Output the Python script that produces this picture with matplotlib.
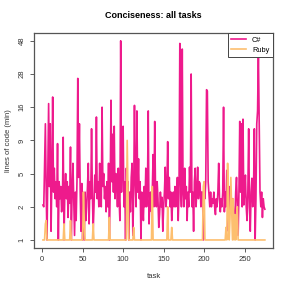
import numpy as np
import matplotlib
matplotlib.use("Agg")
import matplotlib.pyplot as plt

plt.rcParams["font.family"] = ["Liberation Sans", "DejaVu Sans"]

# lines of code per task (min)
csharp = [
    2.1, 2.0, 6.0, 12.0, 3.0, 1.0, 5.0, 17.0, 3.5, 12.0,
    1.2, 4.5, 19.0, 3.0, 5.5, 2.5, 4.0, 2.0, 8.5, 1.0,
    4.0, 2.5, 3.5, 1.8, 2.2, 9.5, 1.0, 3.0, 5.0, 2.5,
    4.0, 1.6, 3.5, 2.2, 8.0, 1.0, 3.0, 6.0, 2.5, 1.1,
    3.0, 1.5, 4.0, 26.0, 4.5, 12.0, 3.0, 1.2, 3.8, 1.0,
    2.2, 1.0, 3.0, 1.5, 2.0, 3.5, 6.0, 1.4, 4.0, 2.5,
    11.0, 3.0, 1.2, 2.0, 4.8, 3.0, 13.5, 2.5, 4.0, 2.0,
    6.0, 3.0, 2.0, 16.0, 3.5, 5.0, 2.5, 3.5, 1.8, 4.0,
    2.0, 6.0, 1.0, 3.0, 18.0, 4.0, 10.0, 3.0, 11.5, 2.5,
    5.0, 4.0, 2.0, 5.5, 2.5, 1.5, 48.0, 3.0, 8.0, 11.5,
    2.0, 4.0, 1.0, 5.5, 2.5, 4.0, 1.0, 3.0, 1.8, 4.5,
    6.0, 1.1, 3.0, 16.5, 4.0, 2.0, 15.0, 3.0, 6.5, 2.5,
    4.0, 1.0, 3.0, 2.2, 1.5, 3.5, 2.0, 5.5, 2.0, 3.0,
    15.0, 1.4, 2.5, 3.0, 1.8, 3.0, 7.0, 2.0, 12.5, 3.0,
    2.0, 4.0, 2.5, 1.3, 1.7, 3.0, 2.0, 2.6, 1.2, 2.0,
    3.0, 5.6, 2.0, 3.0, 8.8, 2.5, 4.5, 2.0, 3.0, 1.5,
    2.1, 3.0, 2.0, 3.5, 2.0, 2.5, 4.5, 1.5, 3.0, 46.0,
    4.0, 2.0, 42.0, 3.0, 2.0, 5.5, 2.5, 3.5, 1.5, 3.0,
    2.0, 5.6, 3.0, 28.0, 2.0, 3.0, 1.2, 4.0, 5.5, 2.0,
    3.0, 5.6, 2.5, 4.0, 3.8, 2.0, 3.0, 3.0, 1.0, 3.5,
    2.5, 4.0, 21.5, 21.0, 4.0, 2.8, 2.0, 3.0, 2.0, 2.5,
    2.2, 3.0, 2.0, 1.7, 2.5, 2.0, 3.0, 6.0, 2.5, 1.8,
    2.5, 2.0, 3.0, 16.0, 1.8, 3.0, 2.0, 5.3, 2.5, 1.2,
    2.5, 3.5, 1.8, 2.5, 2.5, 2.0, 1.5, 1.5, 3.0, 4.5,
    2.0, 1.1, 3.0, 12.5, 3.0, 12.0, 2.0, 13.0, 2.1, 3.0,
    4.8, 2.0, 1.5, 3.0, 11.0, 2.0, 1.2, 3.0, 4.4, 2.0,
    3.0, 11.0, 1.0, 2.5, 12.0, 15.0, 40.0, 12.5, 3.0, 2.0,
    3.0, 1.6, 2.5, 2.0, 1.9,
]
ruby = [1.0] * len(csharp)
ruby_spikes = {
    4: 1.4, 5: 1.5, 27: 1.4, 35: 1.5, 51: 3.0, 52: 1.5, 63: 1.4,
    83: 1.6, 105: 9.0, 106: 3.0, 113: 1.3, 136: 3.5, 155: 2.0,
    160: 1.3, 199: 3.5, 200: 4.0, 227: 1.3, 229: 6.0, 230: 2.0,
    232: 1.6, 233: 4.5, 234: 2.0, 236: 2.5, 238: 1.7, 240: 1.5, 241: 2.0,
}
for task_id, val in ruby_spikes.items():
    ruby[task_id - 1] = val
tasks = np.arange(1, len(csharp) + 1)

ytick_vals = [1, 2, 5, 9, 16, 28, 48]
xtick_vals = [0, 50, 100, 150, 200, 250]

# the y axis places these labels evenly; interpolate in log space between them
lt = np.log(ytick_vals)
pos = np.arange(len(ytick_vals), dtype=float)


def fwd(v):
    lv = np.log(np.clip(np.asarray(v, dtype=float), 1e-9, None))
    p = np.interp(lv, lt, pos)
    p = np.where(lv < lt[0], (lv - lt[0]) / (lt[1] - lt[0]), p)
    p = np.where(lv > lt[-1], pos[-1] + (lv - lt[-1]) / (lt[-1] - lt[-2]), p)
    return p


def inv(p):
    p = np.asarray(p, dtype=float)
    lv = np.interp(p, pos, lt)
    lv = np.where(p < 0, lt[0] + p * (lt[1] - lt[0]), lv)
    lv = np.where(p > pos[-1], lt[-1] + (p - pos[-1]) * (lt[-1] - lt[-2]), lv)
    return np.exp(lv)


fig = plt.figure(figsize=(2.91, 2.91), dpi=100)
ax = fig.add_axes([0.117, 0.148, 0.821, 0.739])

ax.plot(tasks, csharp, color="#EE1A8C", lw=1.2, label="C#")
ax.plot(tasks, ruby, color="#FDBF6F", lw=1.2, label="Ruby")

ax.set_yscale("function", functions=(fwd, inv))
ax.set_ylim(inv(-0.24), inv(6.24))
ax.set_xlim(-10, 285)
ax.set_yticks(ytick_vals)
ax.set_yticklabels([str(v) for v in ytick_vals], rotation=90, va="center")
ax.yaxis.set_minor_locator(matplotlib.ticker.NullLocator())
ax.set_xticks(xtick_vals)

ax.tick_params(labelsize=5.5, length=3, width=0.6, color="#444444",
               labelcolor="#333333", pad=3)
for s in ax.spines.values():
    s.set_color("#555555")
    s.set_linewidth(0.9)

ax.set_title("Conciseness: all tasks", fontsize=6.5, fontweight="bold", pad=11)
ax.set_xlabel("task", fontsize=5.5, color="#333333", labelpad=7)
ax.set_ylabel("lines of code (min)", fontsize=5.5, color="#333333", labelpad=5)

leg = ax.legend(loc="upper right", fontsize=5.3, fancybox=False,
                edgecolor="#444444", framealpha=1, borderaxespad=0,
                handlelength=2.0, borderpad=0.5, labelspacing=0.4)
leg.get_frame().set_linewidth(0.7)

fig.savefig("out.png", dpi=100)
